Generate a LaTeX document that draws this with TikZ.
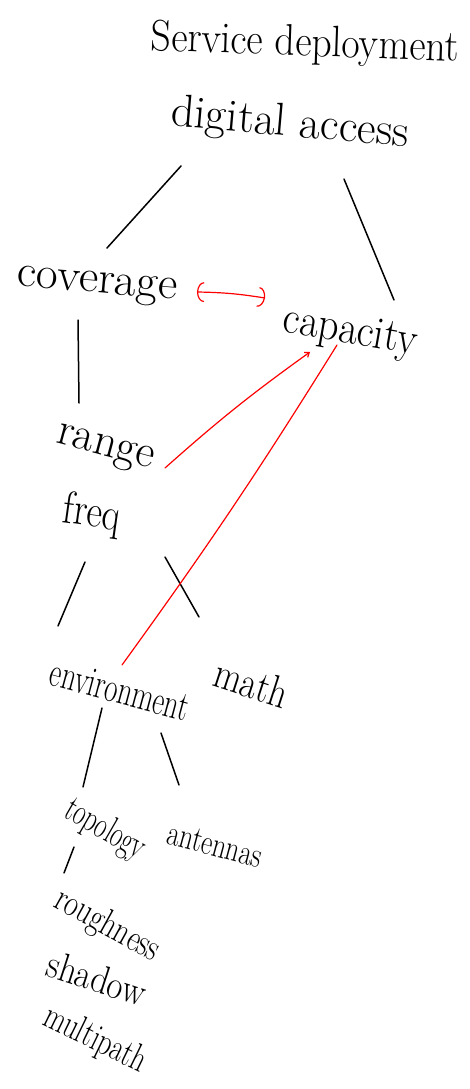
\documentclass[tikz,border=0pt]{standalone}
\usepackage{graphicx}
\usetikzlibrary{arrows.meta}
% #1 font size, #2 target width, #3 word(s)
\newcommand\handw[3]{\resizebox{#2pt}{\height}{\fontsize{#1}{#1}\selectfont #3}}
\tikzset{
  word/.style={inner sep=0pt, anchor=center},
  link/.style={line width=1.5pt, line cap=round, black},
  redlink/.style={line width=1.2pt, line cap=round, red},
}
\begin{document}
\begin{tikzpicture}[x=1pt,y=-1pt]
\useasboundingbox (0,0) rectangle (469,1089);

% words
\node[word, rotate=-2]  (title)     at (305,45)  {\handw{44}{308}{Service deployment}};
\node[word, rotate=-5]  (digital)   at (290,125) {\handw{46}{238}{digital access}};
\node[word, rotate=-5]  (coverage)  at (97,287)  {\handw{46}{160}{coverage}};
\node[word, rotate=-10] (capacity)  at (350,333) {\handw{46}{135}{capacity}};
\node[word, rotate=-15] (range)     at (105,450) {\handw{46}{100}{range}};
\node[word, rotate=-8]  (freq)      at (92,515)  {\handw{46}{58}{freq}};
\node[word, rotate=-15] (env)       at (120,690) {\handw{42}{142}{environment}};
\node[word, rotate=-18] (math)      at (252,683) {\handw{44}{75}{math}};
\node[word, rotate=-30] (topology)  at (105,830) {\handw{38}{88}{topology}};
\node[word, rotate=-15] (antennas)  at (215,845) {\handw{36}{97}{antennas}};
\node[word, rotate=-29] (roughness) at (107,926) {\handw{38}{115}{roughness}};
\node[word, rotate=-18] (shadow)    at (97,978)  {\handw{40}{102}{shadow}};
\node[word, rotate=-26] (multipath) at (95,1040) {\handw{38}{110}{multipath}};

% tree connectors
\draw[link] ([shift={(-109,41)}]digital.center) -- ([shift={(10,-39)}]coverage.center);
\draw[link] ([shift={(54,54)}]digital.center) -- ([shift={(44,-33)}]capacity.center);
\draw[link] ([shift={(-19,33)}]coverage.center) -- ([shift={(-26,-47)}]range.center);
\draw[link] ([shift={(-7,47)}]freq.center) -- ([shift={(-62,-64)}]env.center);
\draw[link] ([shift={(73,42)}]freq.center) -- ([shift={(-53,-66)}]math.center);
\draw[link] ([shift={(-18,18)}]env.center) -- ([shift={(-22,-43)}]topology.center);
\draw[link] ([shift={(41,43)}]env.center) -- ([shift={(-36,-60)}]antennas.center);
\draw[link] ([shift={(-31,17)}]topology.center) -- ([shift={(-43,-53)}]roughness.center);

% red relations
\draw[redlink, {Arc Barb[length=7pt,width=20pt]}-{Arc Barb[length=7pt,width=20pt]}]
  ([shift={(100,5)}]coverage.center) to[bend left=4] ([shift={(-85,-35)}]capacity.center);
\draw[redlink, -{Straight Barb[length=4pt,width=6pt]}]
  ([shift={(60,18)}]range.center) to[bend left=3] ([shift={(-40,19)}]capacity.center);
\draw[redlink] ([shift={(-13,12)}]capacity.center) to[bend left=2] ([shift={(2,-25)}]env.center);
\end{tikzpicture}
\end{document}
